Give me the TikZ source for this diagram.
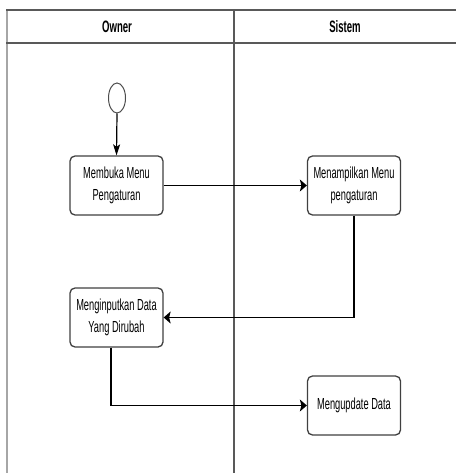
\documentclass[tikz,border=0pt]{standalone}
\usepackage{fontspec}
\setmainfont{Liberation Sans}[FakeStretch=0.58]
\usetikzlibrary{arrows.meta,shapes.geometric}
\begin{document}
\begin{tikzpicture}[x=1pt,y=-1pt,
  lane/.style={draw=black!65,line width=1.6pt},
  act/.style={draw=black!75,line width=1.3pt,rounded corners=5pt,fill=white,
    minimum width=93pt,minimum height=59pt,inner sep=0pt,align=center,
    font=\fontsize{16}{21.5}\selectfont},
  head/.style={font=\fontsize{16.5}{20}\selectfont\bfseries},
  flow/.style={draw=black,line width=1.2pt},
  harrow/.style={flow,-{Stealth[length=7pt,width=12pt,inset=1.5pt]}},
  varrow/.style={flow,-{Stealth[length=11pt,width=7pt,inset=2.5pt]}}]
\useasboundingbox (0,0) rectangle (456,473);
% swimlane frame
\draw[draw=black!35,line width=1.6pt] (7,473) -- (7,10);
\draw[lane] (6.2,10) -- (456,10);
\draw[lane] (6.2,43) -- (456,43);
\draw[lane] (234,10) -- (234,473);
\node[head] (owner) at (117,26.5) {Owner};
\node[head] (sistem) at (345,26.5) {Sistem};
% start state
\node[draw=black!70,line width=1pt,ellipse,minimum width=17pt,minimum height=30pt,inner sep=0pt] (start) at (117,98) {};
% activities
\node[act] (buka) at (116.5,185.5) {Membuka Menu\\Pengaturan};
\node[act] (tampil) at (354,185.5) {Menampilkan Menu\\pengaturan};
\node[act] (input) at (116.5,317.5) {Menginputkan Data\\Yang Dirubah};
\node[act] (update) at (354,405.5) {Mengupdate Data};
% transitions
\draw[varrow] (start.south) -- (buka.north);
\draw[harrow] (buka.east) -- (tampil.west);
\draw[harrow] (tampil.south) |- (input.east);
\draw[harrow] ([xshift=-5.5pt]input.south) |- (update.west);
\end{tikzpicture}
\end{document}
